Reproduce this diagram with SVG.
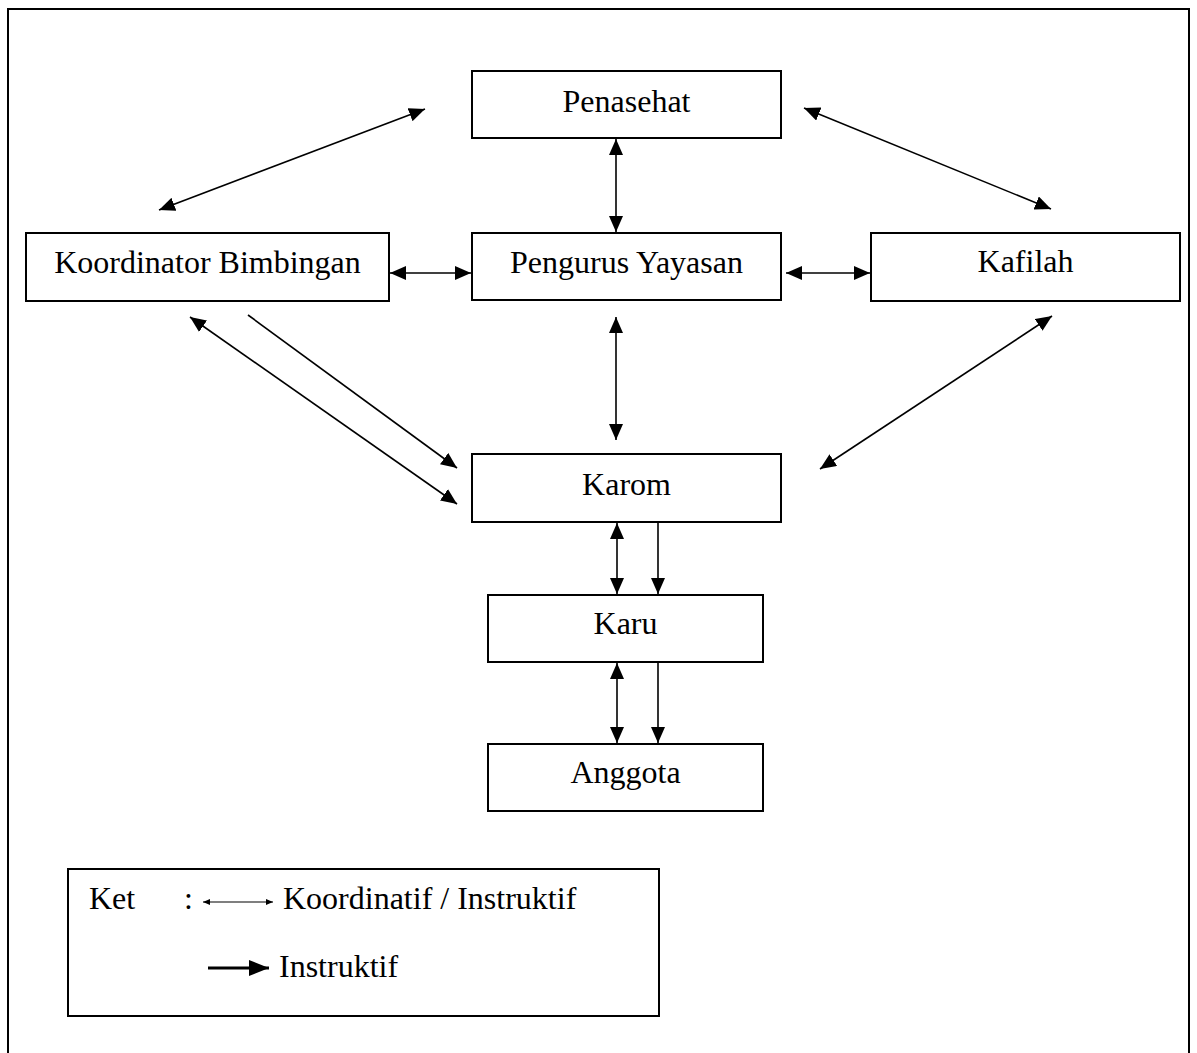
<svg xmlns="http://www.w3.org/2000/svg" width="1197" height="1053" viewBox="0 0 1197 1053">
<style>
.box{fill:#fff;stroke:#000;stroke-width:2}
.lbl{font-family:"Liberation Serif","Times New Roman",serif;font-size:32px;fill:#000}
.mid{text-anchor:middle}
.c{stroke:#000;stroke-width:1.6;fill:none}
.bi{marker-start:url(#ah);marker-end:url(#ah)}
.one{marker-end:url(#ah)}
</style>
<defs>
<marker id="ah" markerUnits="userSpaceOnUse" viewBox="0 0 16 14" markerWidth="16" markerHeight="14" refX="16" refY="7" orient="auto-start-reverse">
<path d="M0,0 L16,7 L0,14 z" fill="#000"/>
</marker>
<marker id="sm" markerUnits="userSpaceOnUse" viewBox="0 0 7 6" markerWidth="7" markerHeight="6" refX="7" refY="3" orient="auto-start-reverse">
<path d="M0,0 L7,3 L0,6 z" fill="#000"/>
</marker>
<marker id="big" markerUnits="userSpaceOnUse" viewBox="0 0 20 16" markerWidth="20" markerHeight="16" refX="20" refY="8" orient="auto">
<path d="M0,0 L20,8 L0,16 z" fill="#000"/>
</marker>
</defs>
<rect width="1197" height="1053" fill="#fff"/>
<path d="M8,1053 V9 H1189 V1053" fill="none" stroke="#000" stroke-width="2"/>

<g id="connectors">
<line class="c bi" x1="425" y1="109" x2="159" y2="210"/>
<line class="c bi" x1="804" y1="108" x2="1051" y2="209"/>
<line class="c bi" x1="616" y1="139" x2="616" y2="232"/>
<line class="c bi" x1="390" y1="273" x2="471" y2="273"/>
<line class="c bi" x1="786" y1="273" x2="870" y2="273"/>
<line class="c bi" x1="616" y1="317" x2="616" y2="440"/>
<line class="c bi" x1="190" y1="317" x2="457" y2="504"/>
<line class="c one" x1="248" y1="315" x2="457" y2="468"/>
<line class="c bi" x1="1052" y1="316" x2="820" y2="469"/>
<line class="c bi" x1="617" y1="523" x2="617" y2="594"/>
<line class="c one" x1="658" y1="523" x2="658" y2="594"/>
<line class="c bi" x1="617" y1="663" x2="617" y2="743"/>
<line class="c one" x1="658" y1="658" x2="658" y2="743"/>
</g>

<g id="penasehat">
<rect class="box" x="472" y="71" width="309" height="67"/>
<text class="lbl mid" x="626.5" y="112">Penasehat</text>
</g>
<g id="koordinator-bimbingan">
<rect class="box" x="26" y="233" width="363" height="68"/>
<text class="lbl mid" x="207.5" y="273">Koordinator Bimbingan</text>
</g>
<g id="pengurus-yayasan">
<rect class="box" x="472" y="233" width="309" height="67"/>
<text class="lbl mid" x="626.5" y="273">Pengurus Yayasan</text>
</g>
<g id="kafilah">
<rect class="box" x="871" y="233" width="309" height="68"/>
<text class="lbl mid" x="1025.5" y="272">Kafilah</text>
</g>
<g id="karom">
<rect class="box" x="472" y="454" width="309" height="68"/>
<text class="lbl mid" x="626.5" y="495">Karom</text>
</g>
<g id="karu">
<rect class="box" x="488" y="595" width="275" height="67"/>
<text class="lbl mid" x="625.5" y="634">Karu</text>
</g>
<g id="anggota">
<rect class="box" x="488" y="744" width="275" height="67"/>
<text class="lbl mid" x="625.5" y="783">Anggota</text>
</g>

<g id="legend">
<rect class="box" x="68" y="869" width="591" height="147"/>
<text class="lbl" x="89" y="909">Ket</text>
<text class="lbl" x="184" y="909">:</text>
<line x1="203" y1="902" x2="273" y2="902" stroke="#000" stroke-width="1.2" marker-start="url(#sm)" marker-end="url(#sm)"/>
<text class="lbl" x="283" y="909">Koordinatif / Instruktif</text>
<line x1="208" y1="968" x2="269" y2="968" stroke="#000" stroke-width="3" marker-end="url(#big)"/>
<text class="lbl" x="279" y="977">Instruktif</text>
</g>
</svg>
